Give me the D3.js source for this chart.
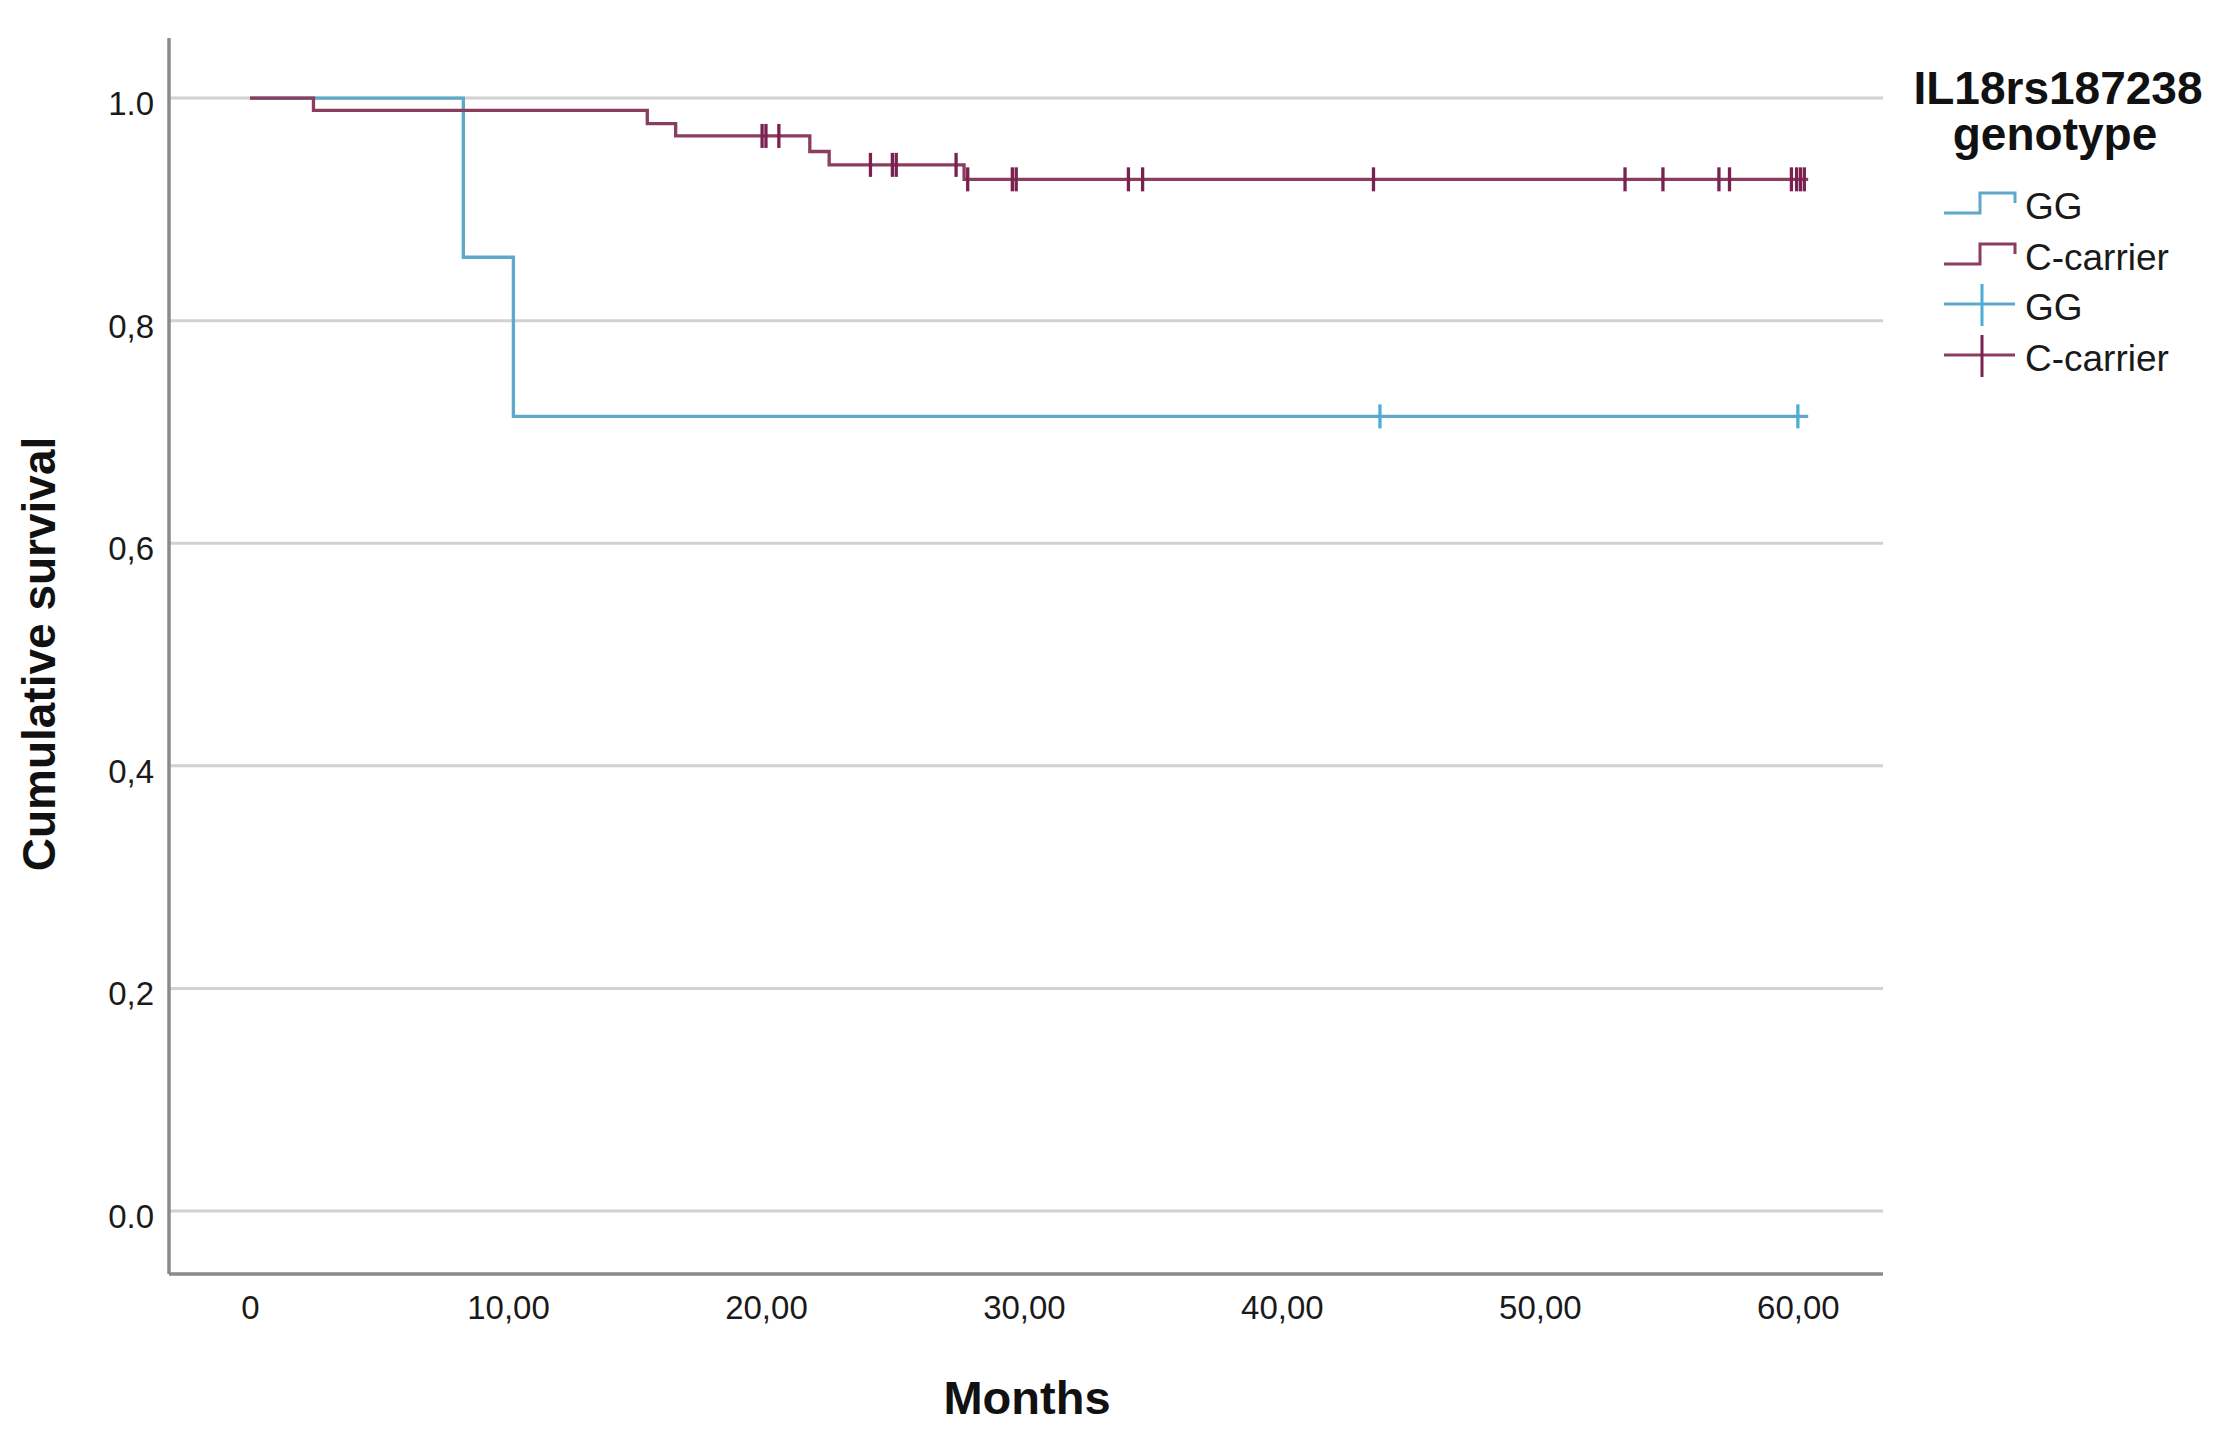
<!DOCTYPE html>
<html><head><meta charset="utf-8">
<script src="https://cdn.jsdelivr.net/npm/d3@7"></script>
<style>html,body{margin:0;padding:0;background:#fff;} svg{display:block;}</style>
</head><body>
<script>
// ---------- data ----------
const xTickValues = [0, 10, 20, 30, 40, 50, 60];
const xTickLabels = ["0", "10,00", "20,00", "30,00", "40,00", "50,00", "60,00"];
const yTickValues = [0, 0.2, 0.4, 0.6, 0.8, 1.0];
const yTickLabels = ["0.0", "0,2", "0,4", "0,6", "0,8", "1.0"];
const groupNames = ["GG", "C-carrier"];
const legendTitle = ["IL18rs187238", "genotype"];
const xTitle = "Months";
const yTitle = "Cumulative survival";

const ggEventTimes = [8.27, 10.21];
const ggSurvival = [0.857, 0.714];
const ggCensorTimes = [43.8, 60.0];

const ccEventTimes = [2.46, 15.4, 16.5, 21.7, 22.45, 27.68];
const ccSurvival = [0.989, 0.977, 0.966, 0.952, 0.940, 0.927];
const ccCensorTimes = [19.85, 20.0, 20.5, 24.05, 24.9, 25.05, 27.37, 27.82, 29.55, 29.7,
  34.05, 34.6, 43.55, 53.3, 54.77, 56.94, 57.35, 59.75, 59.95, 60.1, 60.25];
const followUpEnd = 60.4;

// ---------- styles ----------
const W = 2225, H = 1446;
const FONT = "'Liberation Sans', Arial, Helvetica, sans-serif";
const colors = { "GG": "#5ea9ca", "C-carrier": "#8b3d5f" };
const tickColors = { "GG": "#4aaed6", "C-carrier": "#7a2150" };
const axisColor = "#8a8a8a", gridColor = "#d2d2d2";

const svg = d3.select("body").append("svg").attr("width", W).attr("height", H);
svg.append("rect").attr("width", W).attr("height", H).attr("fill", "#fff");

const x = d3.scaleLinear().domain([-3.14, 63.3]).range([169, 1883]);
const y = d3.scaleLinear().domain([-0.0566, 1.054]).range([1274, 38]);
const [x0, x1] = x.range();
const [yb, yt] = y.range();

// gridlines
svg.append("g").selectAll("line").data(yTickValues).join("line")
  .attr("x1", x0).attr("x2", x1)
  .attr("y1", d => y(d)).attr("y2", d => y(d))
  .attr("stroke", gridColor).attr("stroke-width", 3);

// axes
const xAxis = svg.append("g").attr("transform", `translate(0,${yb})`)
  .call(d3.axisBottom(x).tickValues(xTickValues).tickFormat((d, i) => xTickLabels[i]).tickSize(0).tickPadding(22));
xAxis.select(".domain").remove();
xAxis.selectAll("text").attr("font-family", FONT).attr("font-size", 33).attr("fill", "#1a1a1a");

const yAxis = svg.append("g").attr("transform", `translate(${x0},0)`)
  .call(d3.axisLeft(y).tickValues(yTickValues).tickFormat((d, i) => yTickLabels[i]).tickSize(0).tickPadding(15));
yAxis.select(".domain").remove();
yAxis.selectAll("text").attr("font-family", FONT).attr("font-size", 33).attr("fill", "#1a1a1a").attr("dy", "0.5em");

svg.append("line").attr("x1", x0).attr("x2", x1).attr("y1", yb).attr("y2", yb)
  .attr("stroke", axisColor).attr("stroke-width", 3.5);
svg.append("line").attr("x1", x0).attr("x2", x0).attr("y1", yt).attr("y2", yb)
  .attr("stroke", axisColor).attr("stroke-width", 3.5);

// titles
svg.append("text").attr("x", 1027).attr("y", 1414).attr("text-anchor", "middle")
  .attr("font-family", FONT).attr("font-weight", "bold").attr("font-size", 47).attr("fill", "#111").text(xTitle);
svg.append("text").attr("transform", "translate(55,654) rotate(-90)").attr("text-anchor", "middle")
  .attr("font-family", FONT).attr("font-weight", "bold").attr("font-size", 46).attr("fill", "#111").text(yTitle);

// ---------- curves ----------
const series = [
  { name: "GG", times: ggEventTimes, surv: ggSurvival, censor: ggCensorTimes },
  { name: "C-carrier", times: ccEventTimes, surv: ccSurvival, censor: ccCensorTimes }
];
const line = d3.line().x(d => x(d[0])).y(d => y(d[1])).curve(d3.curveStepAfter);
function survAt(s, t) {
  let v = 1;
  s.times.forEach((tt, i) => { if (tt <= t) v = s.surv[i]; });
  return v;
}
series.forEach(s => {
  const pts = [[0, 1]].concat(s.times.map((t, i) => [t, s.surv[i]]));
  pts.push([followUpEnd, s.surv[s.surv.length - 1]]);
  const g = svg.append("g");
  g.append("path").attr("d", line(pts)).attr("fill", "none")
    .attr("stroke", colors[s.name]).attr("stroke-width", 3.3);
  g.selectAll("line").data(s.censor).join("line")
    .attr("x1", d => x(d)).attr("x2", d => x(d))
    .attr("y1", d => y(survAt(s, d)) - 12).attr("y2", d => y(survAt(s, d)) + 12)
    .attr("stroke", tickColors[s.name]).attr("stroke-width", 3.3);
});

// ---------- legend ----------
const lg = svg.append("g");
lg.append("text").attr("x", 2058).attr("y", 104).attr("text-anchor", "middle")
  .attr("font-family", FONT).attr("font-weight", "bold").attr("font-size", 46).attr("fill", "#111").text(legendTitle[0]);
lg.append("text").attr("x", 2055).attr("y", 150).attr("text-anchor", "middle")
  .attr("font-family", FONT).attr("font-weight", "bold").attr("font-size", 46).attr("fill", "#111").text(legendTitle[1]);

const legendItems = [
  { name: groupNames[0], kind: "step" },
  { name: groupNames[1], kind: "step" },
  { name: groupNames[0], kind: "censor" },
  { name: groupNames[1], kind: "censor" }
];
const rowBase = [219, 270, 320, 371];
legendItems.forEach((it, i) => {
  const b = rowBase[i];
  if (it.kind === "step") {
    lg.append("path").attr("d", `M1944,${b - 6}H1980V${b - 26}H2015V${b - 16}`)
      .attr("fill", "none").attr("stroke", colors[it.name]).attr("stroke-width", 3);
  } else {
    lg.append("line").attr("x1", 1944).attr("x2", 2015).attr("y1", b - 16).attr("y2", b - 16)
      .attr("stroke", colors[it.name]).attr("stroke-width", 3);
    lg.append("line").attr("x1", 1982).attr("x2", 1982).attr("y1", b - 36).attr("y2", b + 6)
      .attr("stroke", tickColors[it.name]).attr("stroke-width", 3);
  }
  lg.append("text").attr("x", 2025).attr("y", b)
    .attr("font-family", FONT).attr("font-size", 37).attr("fill", "#1a1a1a").text(it.name);
});
</script>
</body></html>
